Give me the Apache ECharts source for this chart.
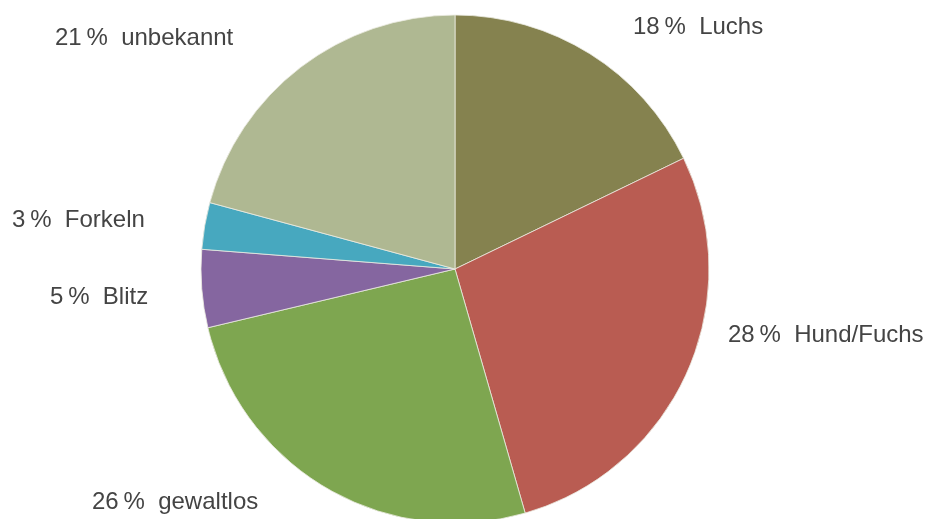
<!DOCTYPE html>
<html>
<head>
<meta charset="utf-8">
<script src="https://cdn.jsdelivr.net/npm/echarts@6/dist/echarts.min.js"></script>
<style>
  html, body { margin: 0; padding: 0; background: #fff; }
  #main { width: 934px; height: 519px; }
</style>
</head>
<body>
<div id="main"></div>
<script>
// Daten
var kategorien = ['Luchs', 'Hund/Fuchs', 'gewaltlos', 'Blitz', 'Forkeln', 'unbekannt'];
var prozente = [18, 28, 26, 5, 3, 21];
var farben = ['#85824f', '#b95c52', '#7ea650', '#8566a0', '#47a8bf', '#afb892'];

// Lage der Beschriftungen (links, Mitte)
var labelPos = [
    [633, 27], [728, 335], [92, 502], [50, 297], [12, 220], [55, 38]
];

var chart = echarts.init(document.getElementById('main'));

var pieData = [];
for (var i = 0; i < kategorien.length; i++) {
    pieData.push({
        name: kategorien[i],
        value: prozente[i],
        itemStyle: { color: farben[i] }
    });
}

var option = {
    animation: false,
    backgroundColor: '#fff',
    series: [{
        type: 'pie',
        center: [455, 269],
        radius: 254,
        startAngle: 90,
        clockwise: true,
        data: pieData,
        itemStyle: {
            borderColor: 'rgba(235,235,225,0.8)',
            borderWidth: 1
        },
        label: {
            show: true,
            position: 'outside',
            overflow: 'none',
            formatter: function(p) {
                return p.value + '\u2009%  ' + p.name;
            },
            color: '#444',
            fontFamily: '"Liberation Sans", Arial, sans-serif',
            fontWeight: 'normal',
            fontSize: 24
        },
        labelLine: { show: false },
        labelLayout: function(params) {
            var pos = labelPos[params.dataIndex];
            return {
                x: pos[0],
                y: pos[1],
                align: 'left',
                verticalAlign: 'middle'
            };
        }
    }]
};

chart.setOption(option);
</script>
</body>
</html>
